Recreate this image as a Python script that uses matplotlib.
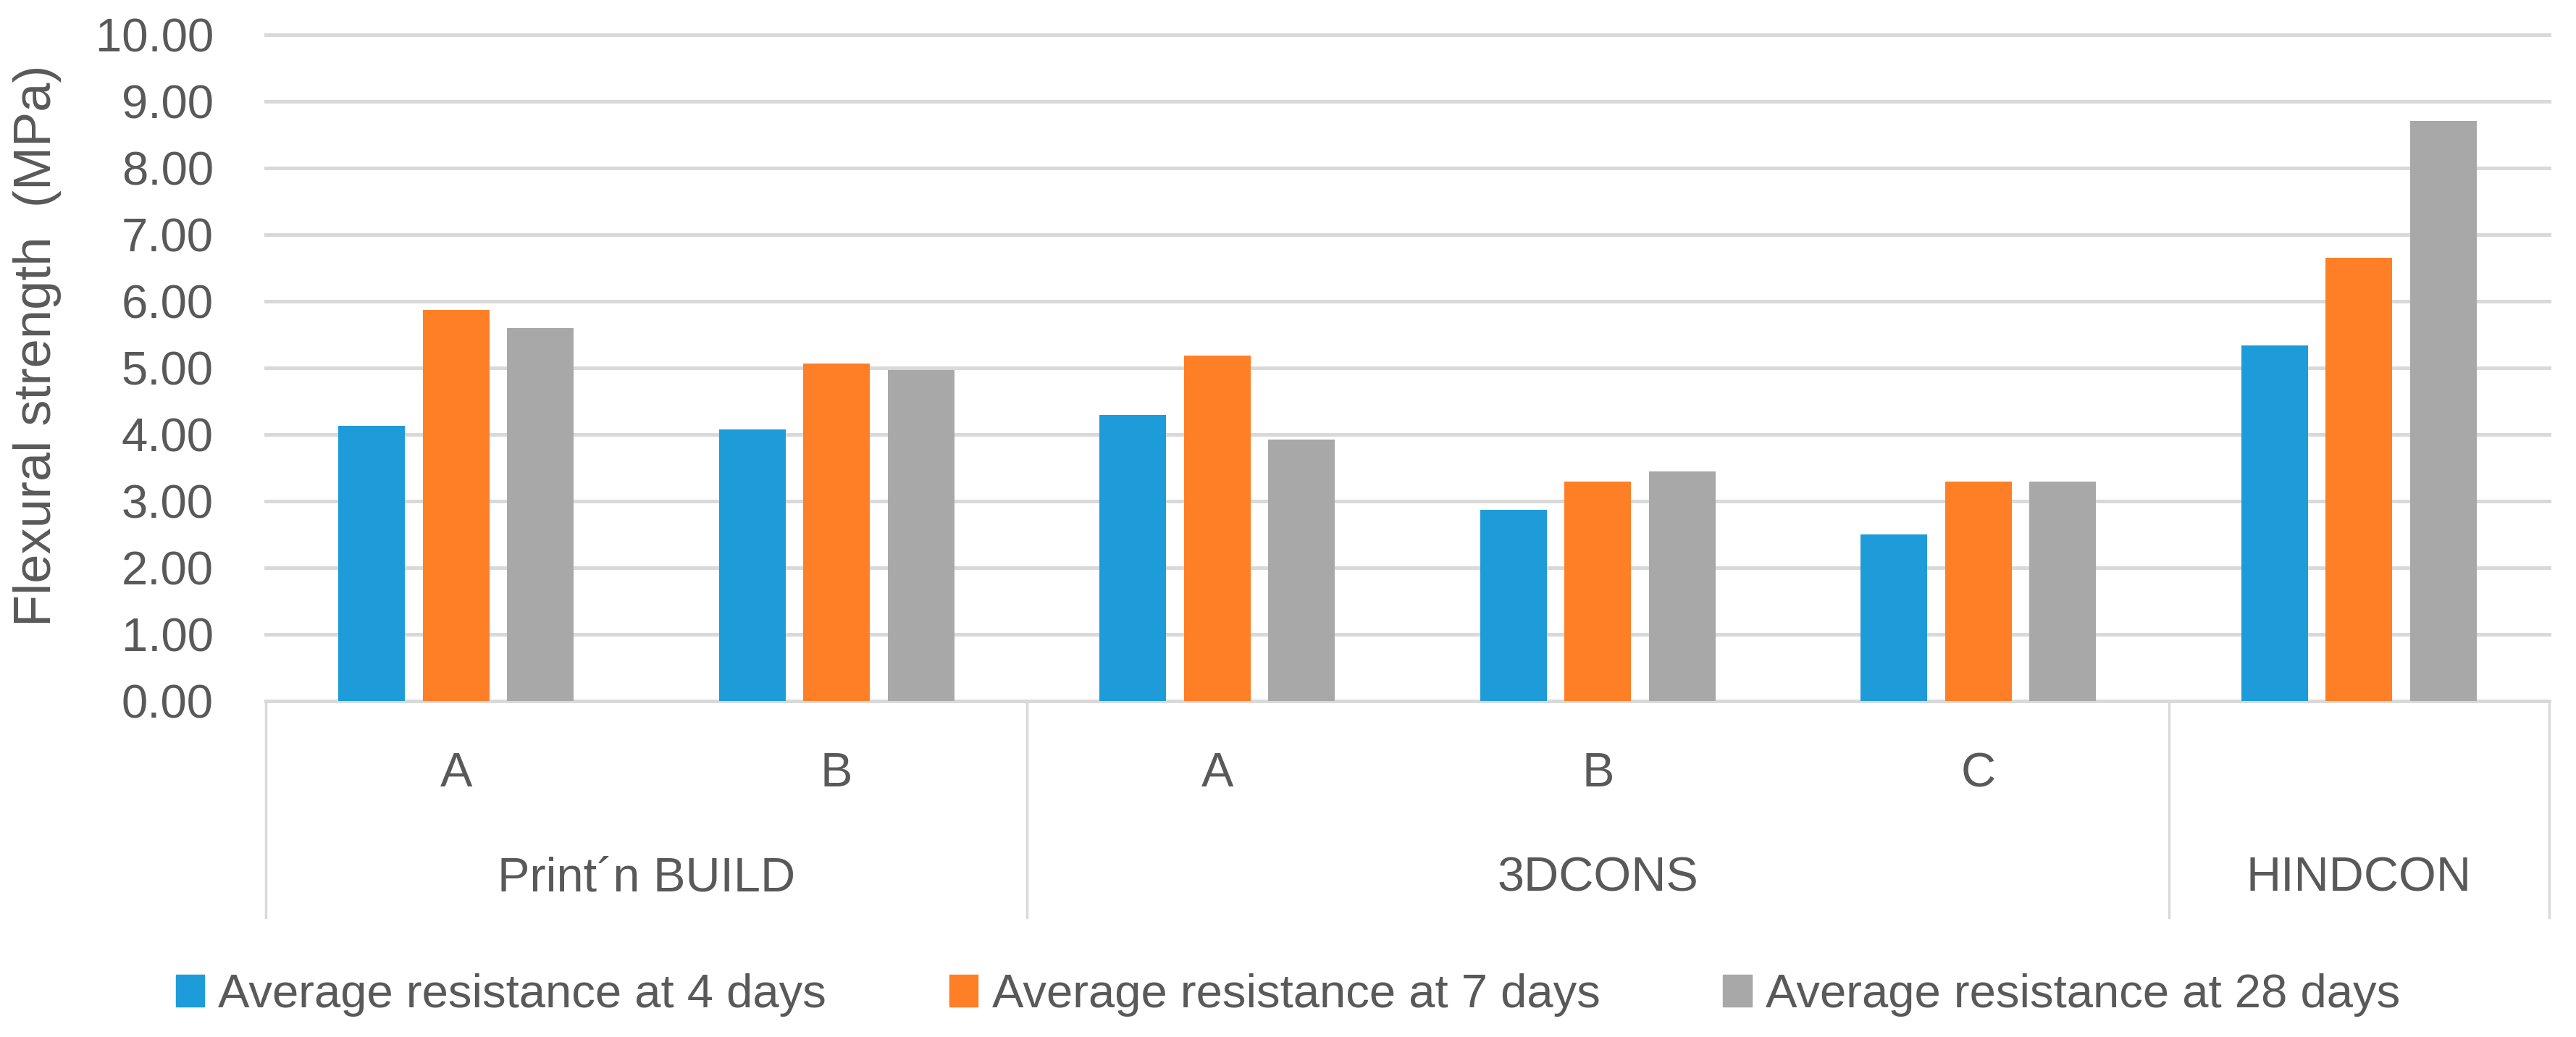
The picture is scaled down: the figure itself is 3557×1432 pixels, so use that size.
import matplotlib
matplotlib.use('Agg')
import matplotlib.pyplot as plt
import matplotlib.transforms as mtransforms
from matplotlib.ticker import FormatStrFormatter
from matplotlib.patches import Patch
import numpy as np

plt.rcParams['font.family'] = ['Liberation Sans', 'DejaVu Sans']

# data
sub_labels = ['A', 'B', 'A', 'B', 'C', '']
group_names = ['Print\u00b4n BUILD', '3DCONS', 'HINDCON']
group_sizes = [2, 3, 1]

series_names = ['Average resistance at 4 days',
                'Average resistance at 7 days',
                'Average resistance at 28 days']
days4 = [4.13, 4.08, 4.29, 2.87, 2.50, 5.34]
days7 = [5.87, 5.07, 5.19, 3.29, 3.29, 6.65]
days28 = [5.60, 4.97, 3.92, 3.45, 3.29, 8.71]
colors = ['#1E9CD9', '#FF7F27', '#A8A8A8']

W, H = 3557, 1432
grid_col = '#D9D9D9'
text_col = '#595959'

fig = plt.figure(figsize=(W / 100, H / 100), dpi=100)
ax = fig.add_axes([367 / W, 1 - 968 / H, (3520 - 367) / W, 920 / H])

x = np.arange(len(sub_labels)) + 0.5
w = 0.175
off = 0.222
for i, (vals, c, name) in enumerate(zip([days4, days7, days28], colors, series_names)):
    ax.bar(x + (i - 1) * off, vals, w, color=c, label=name, zorder=3)

ax.set_xlim(0, len(sub_labels))
ax.set_ylim(0, 10)
ax.set_yticks(np.arange(0, 11, 1))
ax.yaxis.set_major_formatter(FormatStrFormatter('%.2f'))
ax.grid(axis='y', color=grid_col, lw=3.6, zorder=0)
ax.set_axisbelow(True)
for gl in ax.get_ygridlines():
    gl.set_clip_on(False)
for s in ['top', 'right', 'left']:
    ax.spines[s].set_visible(False)
ax.spines['bottom'].set_color(grid_col)
ax.spines['bottom'].set_linewidth(3.6)
ax.tick_params(axis='y', length=0, pad=52, labelsize=47, labelcolor=text_col)
ax.set_xticks([])

# multi-level category axis
trans = mtransforms.blended_transform_factory(ax.transData, ax.transAxes)
for xi, lab in zip(x, sub_labels):
    ax.text(xi, -0.110, lab, transform=trans, ha='center', va='center',
            fontsize=48, color=text_col)

edges = [0]
for n in group_sizes:
    edges.append(edges[-1] + n)
for k, name in enumerate(group_names):
    mid = (edges[k] + edges[k + 1]) / 2
    ax.text(mid, -0.267, name, transform=trans, ha='center', va='center',
            fontsize=48, color=text_col)
for e in edges:
    ax.plot([e, e], [0, -0.325], transform=trans, clip_on=False,
            color=grid_col, lw=2.5)

fig.text(52 / W, 0.667, 'Flexural strength  (MPa)', rotation=90,
         ha='center', va='center', fontsize=52, color=text_col)

handles = [Patch(color=c) for c in colors]
fig.legend(handles, series_names, loc='center', bbox_to_anchor=(0.5, 1 - 1374 / H),
           ncol=3, frameon=False, fontsize=47, handlelength=0.6, handleheight=0.66,
           handletextpad=0.3, columnspacing=2.6, labelcolor=text_col)

fig.savefig('out.png', dpi=100)
